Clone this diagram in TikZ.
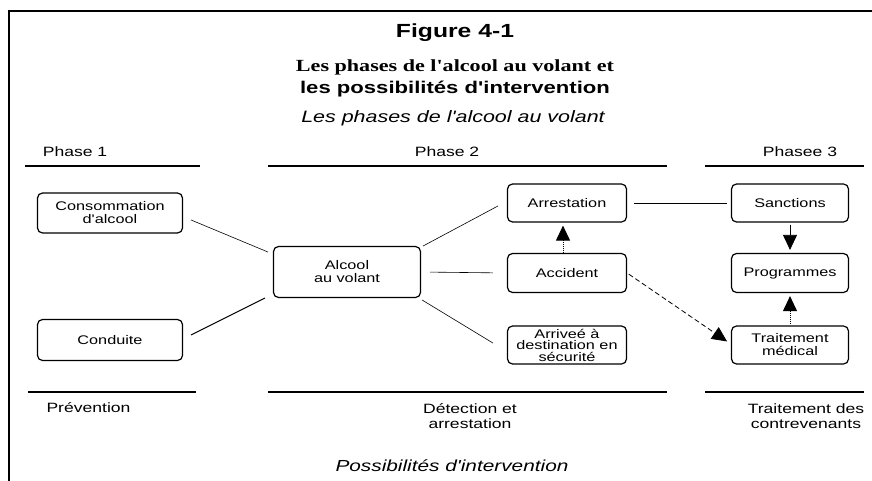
\documentclass[tikz,border=0pt]{standalone}
\usepackage{fontspec}
\newfontfamily\diagsans{Liberation Sans}[FakeStretch=1.3]
\newfontfamily\diagserif{Liberation Serif}[FakeStretch=1.3]
\usetikzlibrary{arrows.meta,positioning}
\tikzset{
  phasebox/.style={draw,rounded corners=5pt,line width=1.2pt,align=center,
    font=\diagsans\fontsize{12.5}{13}\selectfont,inner sep=0pt},
  link/.style={line width=0.6pt},
  rulebar/.style={line width=1.8pt},
  bigtip/.style={-{Triangle[length=15pt,width=14pt]}},
  heading/.style={font=\diagsans\fontsize{13.5}{15}\selectfont,align=center}
}

\begin{document}
\begin{tikzpicture}[x=1pt,y=-1pt,font=\diagsans]
  \useasboundingbox (0,0) rectangle (872,481);
  \draw[line width=2.8pt] (9,481) -- (9,11);
  \draw[line width=1.8pt] (7.6,11) -- (872,11);
  % titles
  \node[font=\diagsans\bfseries\fontsize{19}{22}\selectfont] (fig) at (455,33) {Figure 4-1};
  \node[font=\diagserif\bfseries\fontsize{17}{20}\selectfont] (sub1) at (455,67) {Les phases de l'alcool au volant et};
  \node[font=\diagsans\bfseries\fontsize{17}{20}\selectfont] (sub2) at (455,89) {les possibilités d'intervention};
  \node[font=\diagsans\itshape\fontsize{16.5}{19}\selectfont] (phases) at (453,118) {Les phases de l'alcool au volant};
  % phases
  \node[heading] (ph1) at (75,152) {Phase 1};
  \node[heading] (ph2) at (447,152) {Phase 2};
  \node[heading] (ph3) at (800,152) {Phasee 3};
  \draw[rulebar] (25,166) -- (200,166);
  \draw[rulebar] (268,166) -- (667,166);
  \draw[rulebar] (705,166) -- (864,166);
  % boxes
  \node[phasebox,minimum width=145pt,minimum height=40pt] (conso) at (110,213) {Consommation\\d'alcool};
  \node[phasebox,minimum width=145pt,minimum height=41pt] (conduite) at (110,340) {Conduite};
  \node[phasebox,minimum width=147pt,minimum height=51pt] (alcool) at (347,272) {Alcool\\au volant};
  \node[phasebox,minimum width=119pt,minimum height=38pt] (arrest) at (567,203) {Arrestation};
  \node[phasebox,minimum width=119pt,minimum height=39pt] (accident) at (567,273) {Accident};
  \node[phasebox,minimum width=119pt,minimum height=38pt,
        font=\diagsans\fontsize{12.5}{11.5}\selectfont] (arrivee) at (567,345) {Arriveé à\\destination en\\sécurité};
  \node[phasebox,minimum width=117pt,minimum height=38pt] (sanctions) at (790,203) {Sanctions};
  \node[phasebox,minimum width=117pt,minimum height=39pt] (programmes) at (790,273) {Programmes};
  \node[phasebox,minimum width=117pt,minimum height=38pt] (traitement) at (790,345) {Traitement\\médical};
  % links
  \draw[link] ([shift={(8,7)}]conso.east) -- ([shift={(-5,-20)}]alcool.west);
  \draw[link,line width=1pt] ([shift={(8,-5)}]conduite.east) -- ([shift={(-8,26)}]alcool.west);
  \draw[link] ([shift={(2,-26)}]alcool.east) -- ([shift={(-9,3)}]arrest.west);
  \draw[link,shorten <=9pt,shorten >=14pt] (alcool.east) -- (accident.west);
  \draw[link] ([shift={(1,28)}]alcool.east) -- ([shift={(-14,-2)}]arrivee.west);
  \draw[link,shorten <=7pt,shorten >=4pt] (arrest.east) -- (sanctions.west);
  % arrows
  \draw[bigtip,densely dotted,line width=1pt,shorten >=3pt] ([xshift=-4pt]accident.north) -- ([xshift=-4pt]arrest.south);
  \draw[bigtip,line width=0.8pt,shorten <=2pt,shorten >=3pt] (sanctions.south) -- (programmes.north);
  \draw[bigtip,densely dotted,line width=1pt,shorten <=1pt,shorten >=3pt] (traitement.north) -- (programmes.south);
  \draw[bigtip,dash pattern=on 5pt off 3pt,line width=0.8pt,shorten <=2pt,shorten >=1pt] (accident.east) -- ([shift={(-3,-3)}]traitement.west);
  % intervention
  \draw[rulebar] (28,392) -- (196,392);
  \draw[rulebar] (268,392) -- (667,392);
  \draw[rulebar] (705,392) -- (864,392);
  \node[heading,anchor=west] (prev) at (43,408) {Prévention};
  \node[heading] (detect) at (470,416) {Détection et\\arrestation};
  \node[heading] (contrev) at (806,416) {Traitement des\\contrevenants};
  \node[font=\diagsans\itshape\fontsize{16}{19}\selectfont] (possib) at (452,466) {Possibilités d'intervention};
\end{tikzpicture}
\end{document}
